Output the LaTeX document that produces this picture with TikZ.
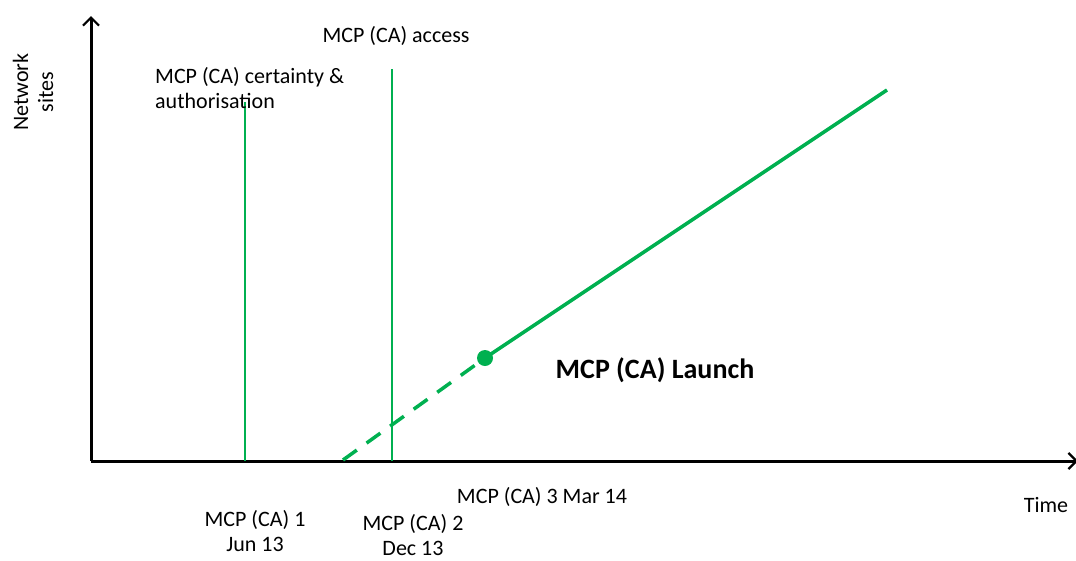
\documentclass[tikz,border=0pt]{standalone}
\usepackage{fontspec}
\setmainfont{Carlito}
\usetikzlibrary{arrows.meta,positioning}
\definecolor{mcpgreen}{RGB}{0,176,80}

\begin{document}
\begin{tikzpicture}[x=1pt,y=-1pt,
    lbl/.style={font=\fontsize{22}{25}\selectfont, inner sep=0pt, align=center},
    axis/.style={line width=3pt, -{Straight Barb[length=8pt,width=16pt,line width=2.2pt]}},
    marker/.style={mcpgreen, line width=1.3pt}]
    \useasboundingbox (0,0) rectangle (1076,560);

    % Axes
    \coordinate (origin) at (91,461);
    \coordinate (ytip) at (91,16);
    \coordinate (xtip) at (1078,461);
    \draw[axis] (origin) -- (ytip);
    \draw[axis] (origin) -- (xtip);
    \node[lbl, rotate=90] (ylabel) at (33,92) {Network\\sites};
    \node[lbl] (xlabel) at (1046,505) {Time};

    % Milestone markers
    \coordinate (m1top) at (245,102);
    \coordinate (m1bot) at (245,461);
    \coordinate (m2top) at (392,69);
    \coordinate (m2bot) at (392,461);
    \draw[marker] (m1bot) -- (m1top);
    \draw[marker] (m2bot) -- (m2top);
    \node[lbl, align=left, anchor=west] (certainty) at (155,88) {MCP (CA) certainty \&\\authorisation};
    \node[lbl] (access) at (396,36) {MCP (CA) access};

    % Launch line
    \coordinate (start) at (343,460);
    \coordinate (launch) at (485,358);
    \coordinate (end) at (887,90);
    \draw[mcpgreen, line width=3.5pt, dash pattern=on 17pt off 12pt] (start) -- (launch);
    \draw[mcpgreen, line width=3.5pt] (launch) -- (end);
    \fill[mcpgreen] (launch) circle (8);
    \node[lbl, font=\fontsize{28}{32}\selectfont\bfseries] (launchlbl) at (655,370) {MCP (CA) Launch};

    % Dates
    \node[lbl] (mcp1) at (255,531) {MCP (CA) 1\\Jun 13};
    \node[lbl] (mcp2) at (413,535) {MCP (CA) 2\\Dec 13};
    \node[lbl] (mcp3) at (542,497) {MCP (CA) 3 Mar 14};
\end{tikzpicture}
\end{document}
